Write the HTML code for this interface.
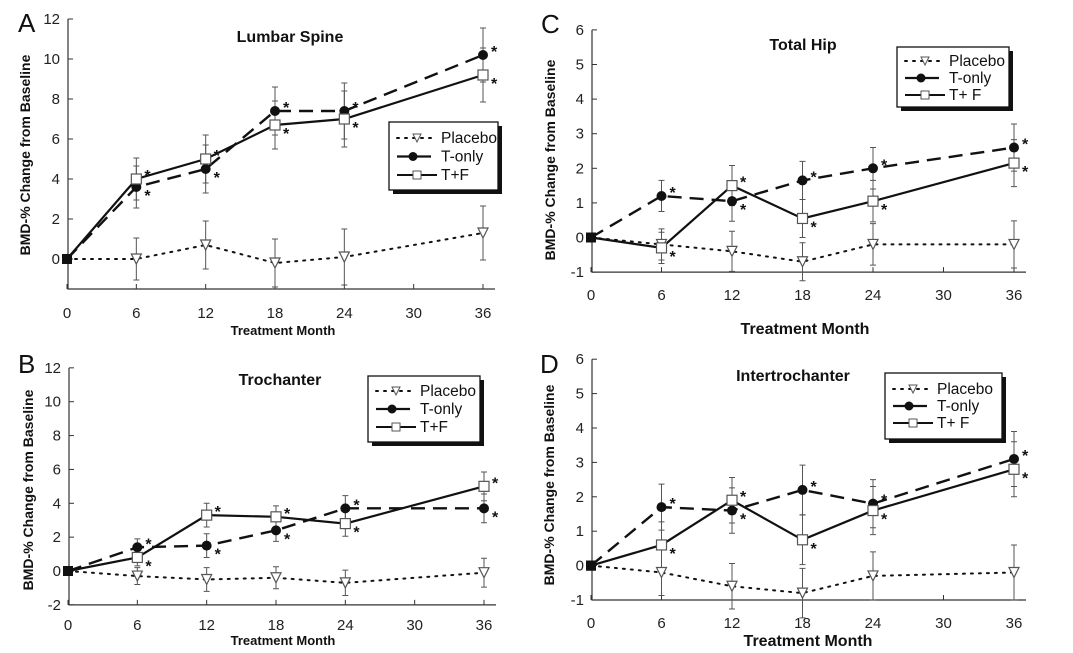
<!DOCTYPE html>
<html><head><meta charset="utf-8">
<style>
body{margin:0;background:#fff;}
svg{display:block;font-family:"Liberation Sans",Arial,sans-serif;}
</style></head>
<body>
<svg id="fig" width="1073" height="653" viewBox="0 0 1073 653" xmlns="http://www.w3.org/2000/svg"></svg>
<script>
const months = [0, 6, 12, 18, 24, 36];
const lumbarPlacebo = [0, 0, 0.7, -0.2, 0.1, 1.3];
const lumbarTonly = [0, 3.6, 4.5, 7.4, 7.4, 10.2];
const lumbarTF = [0, 4.0, 5.0, 6.7, 7.0, 9.2];
const lumbarErr = [0, 1.05, 1.2, 1.2, 1.4, 1.35];
const trochPlacebo = [0, -0.3, -0.5, -0.4, -0.7, -0.1];
const trochTonly = [0, 1.4, 1.5, 2.4, 3.7, 3.7];
const trochTF = [0, 0.8, 3.3, 3.2, 2.8, 5.0];
const trochErr = [0, 0.5, 0.7, 0.65, 0.75, 0.85];
const hipPlacebo = [0, -0.2, -0.4, -0.7, -0.2, -0.2];
const hipTonly = [0, 1.2, 1.05, 1.65, 2.0, 2.6];
const hipTF = [0, -0.3, 1.5, 0.55, 1.05, 2.15];
const hipErr = [0, 0.45, 0.58, 0.55, 0.6, 0.68];
const interPlacebo = [0, -0.2, -0.6, -0.8, -0.3, -0.2];
const interTonly = [0, 1.7, 1.6, 2.2, 1.8, 3.1];
const interTF = [0, 0.6, 1.9, 0.75, 1.6, 2.8];
const interErr = [0, 0.67, 0.66, 0.72, 0.7, 0.8];
const xTicks = [0, 6, 12, 18, 24, 30, 36];
const yTicksBig = [-2, 0, 2, 4, 6, 8, 10, 12];
const yTicksSmall = [-1, 0, 1, 2, 3, 4, 5, 6];

const NS = "http://www.w3.org/2000/svg";
const svg = document.getElementById('fig');
function mk(tag, attrs, parent, text){
  const e = document.createElementNS(NS, tag);
  for (const k in attrs) e.setAttribute(k, attrs[k]);
  if (text !== undefined) e.textContent = text;
  (parent || svg).appendChild(e);
  return e;
}

function panel(cfg){
  const g = mk('g', {});
  
  
  const sx = v => cfg.x0 + (v - 0) * (cfg.x36 - cfg.x0) / 36;
  const sy = v => cfg.yZero - v * cfg.ppu;
  const yTop = sy(cfg.yMax), yBot = sy(cfg.yMin);
  const axL = cfg.x0 + 1, axR = cfg.x36 + 12;
  const ax = mk('path', {d:`M${axL} ${yTop}V${yBot}H${axR}`, stroke:'#333', 'stroke-width':1.2, fill:'none'}, g);
  
  
  cfg.yTicks.forEach(t => {
    mk('line', {x1:axL, x2:axL+5, y1:sy(t), y2:sy(t), stroke:'#333', 'stroke-width':1}, g);
    const tl = mk('text', {x:axL-8, y:sy(t)+5, 'text-anchor':'end', 'font-size':15, fill:'#222'}, g, String(t));
    
    
  });
  xTicks.forEach(t => {
    mk('line', {x1:sx(t), x2:sx(t), y1:yBot, y2:yBot-5, stroke:'#333', 'stroke-width':1}, g);
    const tl = mk('text', {x:sx(t), y:cfg.xLabY, 'text-anchor':'middle', 'font-size':15, fill:'#222'}, g, String(t));
    
    
  });
  const xt = mk('text', {x:cfg.xTitleX, y:cfg.xTitleY, 'text-anchor':'middle', 'font-size':cfg.xTitleSize, 'font-weight':'bold', fill:'#111'}, g, 'Treatment Month');
  
  
  const yt = mk('text', {x:0, y:0, transform:`translate(${cfg.yTitleX},${cfg.yTitleY}) rotate(-90)`, 'text-anchor':'middle', 'font-size':14, 'font-weight':'bold', fill:'#111'}, g, 'BMD-% Change from Baseline');
  
  
  const lt = mk('text', {x:cfg.letterX, y:cfg.letterY, 'font-size':26, fill:'#111'}, g, cfg.letter);
  
  
  const tt = mk('text', {x:cfg.titleX, y:cfg.titleY, 'text-anchor':'middle', 'font-size':16, 'font-weight':'bold', fill:'#111'}, g, cfg.title);
  
  

  const series = [
    {v:cfg.placebo, dash:'2 6', w:2, mark:'tri', nm:'placebo'},
    {v:cfg.tonly, dash:'14 8', w:2.4, mark:'dot', nm:'t-only'},
    {v:cfg.tf, dash:'', w:2.2, mark:'sq', nm:'t-plus-f'}
  ];
  series.forEach(s => {
    months.forEach((m,i) => {
      if (i === 0) return;
      const e = cfg.err[i];
      const x = sx(m), y1 = sy(s.v[i]-e), y2 = sy(s.v[i]+e);
      const eb = mk('path', {d:`M${x} ${y1}V${y2}M${x-3} ${y1}H${x+3}M${x-3} ${y2}H${x+3}`, stroke:'#555', 'stroke-width':1, fill:'none'}, g);
      
      
    });
  });
  series.forEach(s => {
    const d = months.map((m,i) => (i?'L':'M') + sx(m) + ' ' + sy(s.v[i])).join('');
    const ln = mk('path', {d, stroke:'#111', 'stroke-width':s.w, fill:'none', 'stroke-dasharray':s.dash, 'stroke-linecap':s.mark==='tri'?'round':'butt'}, g);
    
    
    months.forEach((m,i) => {
      const x = sx(m), y = sy(s.v[i]);
      let p;
      if (i === 0) { p = mk('rect', {x:x-5, y:y-5, width:10, height:10, fill:'#111'}, g); }
      else if (s.mark === 'dot') p = mk('circle', {cx:x, cy:y, r:5, fill:'#111'}, g);
      else if (s.mark === 'sq') p = mk('rect', {x:x-5, y:y-5, width:10, height:10, fill:'#fff', stroke:'#555', 'stroke-width':1.2}, g);
      else p = mk('path', {d:`M${x-5} ${y-5}H${x+5}L${x} ${y+5}Z`, fill:'#fff', stroke:'#555', 'stroke-width':1.2}, g);
      
      
      if (i > 0 && s.mark !== 'tri') {
        const a = mk('text', {x:x+8, y:y + (s.v[i] >= (s.mark==='dot'?cfg.tf[i]:cfg.tonly[i]) ? 2 : 14), 'font-size':16, 'font-weight':'bold', fill:'#111'}, g, '*');
        
        
      }
    });
  });
  const L = cfg.leg;
  const lg = mk('g', {}, g);
  
  
  mk('rect', {x:L.x+4, y:L.y+4, width:L.w, height:L.h, fill:'#111'}, lg);
  mk('rect', {x:L.x, y:L.y, width:L.w, height:L.h, fill:'#fff', stroke:'#111', 'stroke-width':1.3}, lg);
  const rows = [['Placebo','tri'],['T-only','dot'],[cfg.tfLabel,'sq']];
  rows.forEach((r,k) => {
    const yy = L.y + L.first + k*L.sp, xs = L.x + 8, xe = L.x + 48, xm = (xs+xe)/2;
    const sty = k===0 ? {dash:'2 6', w:2} : k===1 ? {dash:'14 6', w:2.2} : {dash:'', w:2};
    mk('line', {x1:xs, x2:xe, y1:yy, y2:yy, stroke:'#111', 'stroke-width':sty.w, 'stroke-dasharray':sty.dash, 'stroke-linecap':k===0?'round':'butt'}, lg);
    if (r[1]==='dot') mk('circle', {cx:xm-4, cy:yy, r:4.5, fill:'#111'}, lg);
    else if (r[1]==='sq') mk('rect', {x:xm-4, y:yy-4, width:8, height:8, fill:'#fff', stroke:'#555'}, lg);
    else mk('path', {d:`M${xm-4} ${yy-4}H${xm+4}L${xm} ${yy+4}Z`, fill:'#fff', stroke:'#555'}, lg);
    const et = mk('text', {x:xe+4, y:yy+5, 'font-size':15.5, fill:'#111'}, lg, r[0]);
    
    
  });
}

panel({name:'panel-a-lumbar-spine', letter:'A', letterX:18, letterY:32, title:'Lumbar Spine', titleX:290, titleY:42,
  x0:67, x36:483, yZero:259, ppu:20, yMin:-1.5, yMax:12, yTicks:[0,2,4,6,8,10,12], xLabY:318,
  xTitleX:283, xTitleY:335, xTitleSize:13, yTitleX:30, yTitleY:155,
  placebo:lumbarPlacebo, tonly:lumbarTonly, tf:lumbarTF, err:lumbarErr, tfLabel:'T+F',
  leg:{x:389, y:122, w:109, h:68, first:16, sp:18.5}});
panel({name:'panel-b-trochanter', letter:'B', letterX:18, letterY:373, title:'Trochanter', titleX:280, titleY:385,
  x0:68, x36:484, yZero:571, ppu:16.93, yMin:-2, yMax:12, yTicks:yTicksBig, xLabY:630,
  xTitleX:283, xTitleY:645, xTitleSize:13, yTitleX:33, yTitleY:490,
  placebo:trochPlacebo, tonly:trochTonly, tf:trochTF, err:trochErr, tfLabel:'T+F',
  leg:{x:368, y:376, w:112, h:66, first:15, sp:18}});
panel({name:'panel-c-total-hip', letter:'C', letterX:541, letterY:33, title:'Total Hip', titleX:803, titleY:50,
  x0:591, x36:1014, yZero:237.5, ppu:34.6, yMin:-1, yMax:6, yTicks:yTicksSmall, xLabY:300,
  xTitleX:805, xTitleY:334, xTitleSize:16, yTitleX:555, yTitleY:160,
  placebo:hipPlacebo, tonly:hipTonly, tf:hipTF, err:hipErr, tfLabel:'T+ F',
  leg:{x:897, y:47, w:112, h:60, first:14, sp:17}});
panel({name:'panel-d-intertrochanter', letter:'D', letterX:540, letterY:373, title:'Intertrochanter', titleX:793, titleY:381,
  x0:591, x36:1014, yZero:565.6, ppu:34.4, yMin:-1, yMax:6, yTicks:yTicksSmall, xLabY:628,
  xTitleX:808, xTitleY:646, xTitleSize:16, yTitleX:554, yTitleY:485,
  placebo:interPlacebo, tonly:interTonly, tf:interTF, err:interErr, tfLabel:'T+ F',
  leg:{x:885, y:373, w:117, h:66, first:16, sp:17}});
</script>
</body></html>
